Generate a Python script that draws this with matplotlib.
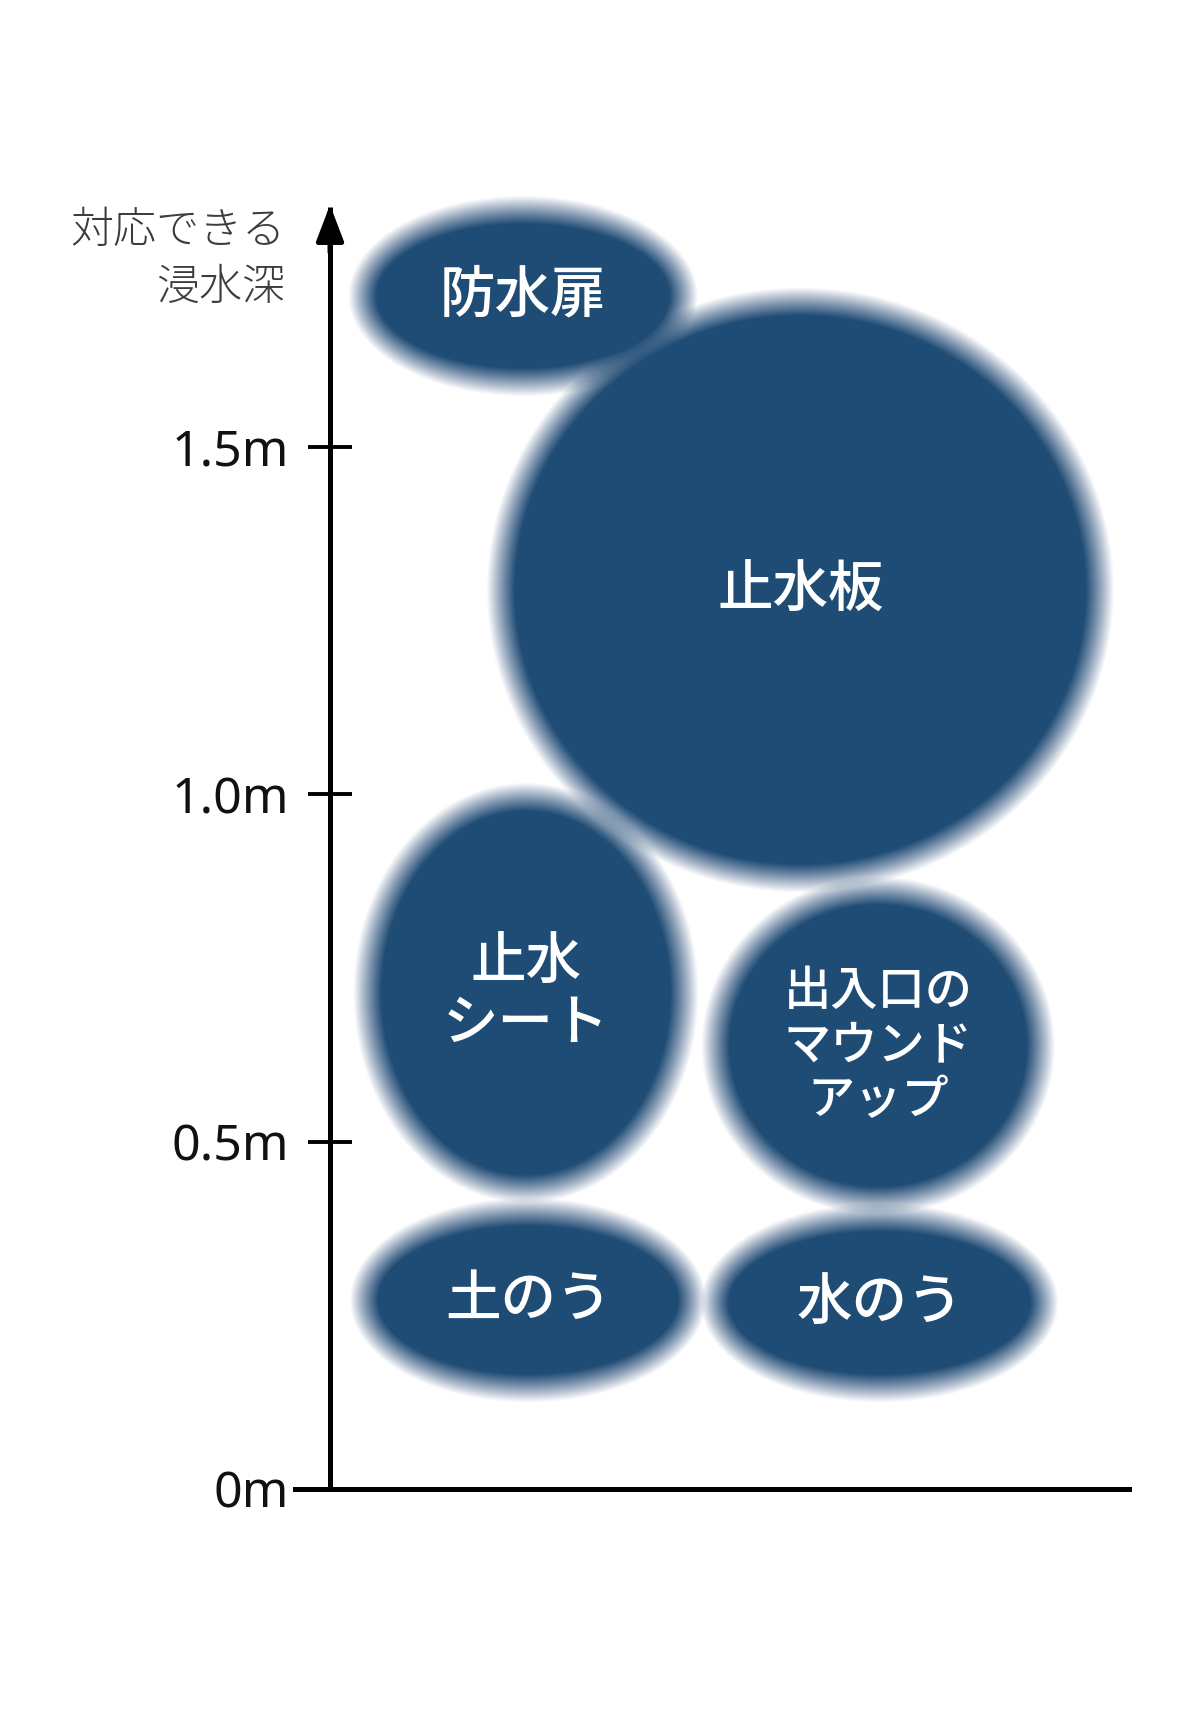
import matplotlib
matplotlib.use("Agg")
import matplotlib.pyplot as plt
from matplotlib.patches import Ellipse

# measures and how deep a flood each one can handle (y in metres)
names = ['防水扉', '止水板', '止水\nシート', '出入口の\nマウンド\nアップ', '土のう', '水のう']
x_pos = [0.278, 0.677, 0.282, 0.789, 0.285, 0.791]
y_pos = [1.717, 1.294, 0.714, 0.638, 0.272, 0.268]
widths = [0.462, 0.862, 0.456, 0.468, 0.472, 0.474]
heights = [0.248, 0.830, 0.564, 0.446, 0.254, 0.246]
tick_vals = [0, 0.5, 1.0, 1.5]
tick_labels = ['0m', '0.5m', '1.0m', '1.5m']

navy = '#1f4c75'
cjk = ['Noto Sans CJK JP', 'DejaVu Sans']


def soft_ellipse(ax, cx, cy, w, h, color, blur=0.04, n=28):
    # stack of ellipses giving a linear fade over the edge
    for i in range(n):
        f = i / (n - 1)
        d = blur * (1 - 2 * f)
        ax.add_patch(Ellipse((cx, cy), w + d, h + d, facecolor=color,
                             edgecolor='none', alpha=1.0 / (n - i), zorder=2,
                             clip_on=False))


fig = plt.figure(figsize=(12, 17.12), dpi=100)
W, H = 1200, 1712
# axes spans px x 295..1129, y 207..1489
ax = fig.add_axes([295 / W, (H - 1489) / H, (1129 - 295) / W, (1489 - 207) / H])
ax.set_xlim(-0.0504, 1.150)
ax.set_ylim(0, 1.845)

for s in ['top', 'right']:
    ax.spines[s].set_visible(False)
ax.spines['left'].set_position(('data', 0))
ax.spines['left'].set_linewidth(3.6)
ax.spines['bottom'].set_linewidth(3.6)
ax.spines['left'].set_capstyle('butt')

ax.set_xticks([])
ax.set_yticks(tick_vals)
ax.set_yticklabels(tick_labels, fontsize=36, family=['Noto Sans', 'DejaVu Sans'], color='#111111')
ax.tick_params(axis='y', direction='inout', length=31, width=2.8, pad=14)

# arrow head on the vertical axis
ax.annotate('', xy=(0, 1.848), xytext=(0, 1.78),
            arrowprops=dict(arrowstyle='-|>,head_length=1.1,head_width=0.42',
                            color='black', lw=3.6, mutation_scale=20,
                            shrinkA=0, shrinkB=0), annotation_clip=False)

ax.text(-0.065, 1.770, '対応できる\n浸水深', ha='right', va='center',
        multialignment='right', fontsize=31, color='#3c3c3c',
        family=cjk, fontweight='light', linespacing=1.35)

for i, name in enumerate(names):
    soft_ellipse(ax, x_pos[i], y_pos[i], widths[i], heights[i], navy)
    fs = 34 if name.count('\n') > 1 else 40
    ax.text(x_pos[i], y_pos[i], name, ha='center', va='center', color='white',
            fontsize=fs, family=cjk, fontweight='medium', linespacing=1.15, zorder=5)

fig.savefig('out.png', dpi=100, facecolor='white')
